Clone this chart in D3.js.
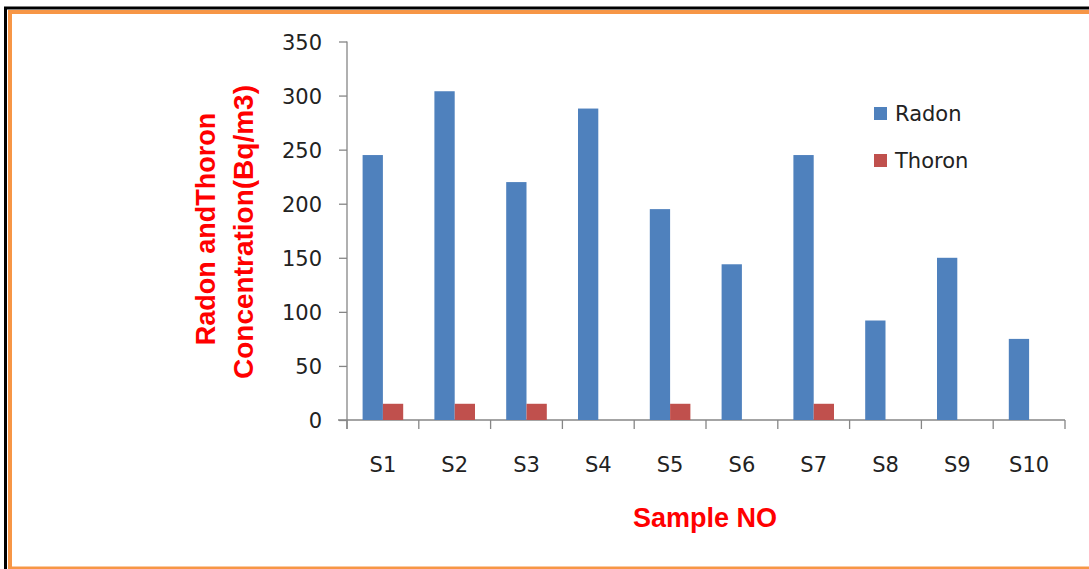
<!DOCTYPE html>
<html>
<head>
<meta charset="utf-8">
<script src="https://cdn.jsdelivr.net/npm/d3@7"></script>
<style>
  html, body { margin: 0; padding: 0; background: #fff; }
  svg { display: block; }
  text { font-family: "DejaVu Sans", sans-serif; }
</style>
</head>
<body>
<svg id="chart" width="1089" height="569"></svg>
<script>
const categories = ["S1","S2","S3","S4","S5","S6","S7","S8","S9","S10"];
const radon  = [245, 304, 220, 288, 195, 144, 245, 92, 150, 75];
const thoron = [15, 15, 15, 0, 15, 0, 15, 0, 0, 0];
const seriesNames = ["Radon", "Thoron"];
const seriesColors = ["#4F81BD", "#C0504D"];
const yTicks = [0, 50, 100, 150, 200, 250, 300, 350];

(function () {
const svg = d3.select("#chart");
const labelFont = "DejaVu Sans, sans-serif";
const titleFont = "Liberation Sans, Arial, sans-serif";

// frame
svg.append("rect").attr("x", 5.5).attr("y", 8).attr("width", 1100).attr("height", 600)
  .attr("fill", "none").attr("stroke", "#000").attr("stroke-width", 3);
svg.append("rect").attr("x", 10).attr("y", 12).attr("width", 1100).attr("height", 556.5)
  .attr("fill", "#fff").attr("stroke", "#F79646").attr("stroke-width", 4);
svg.append("line").attr("x1", 8).attr("x2", 1089).attr("y1", 568.5).attr("y2", 568.5)
  .attr("stroke", "#F79646").attr("stroke-width", 1);

const mLeft = 347, mRight = 1065, mTop = 41.5, mBottom = 420;
const x = d3.scaleBand().domain(categories).range([mLeft, mRight]).paddingInner(0).paddingOuter(0);
const y = d3.scaleLinear().domain([0, 350]).range([mBottom, mTop]);

const axisColor = "#868686";

// y axis
const yAxis = d3.axisLeft(y).tickValues(yTicks).tickSize(8).tickPadding(17).tickSizeOuter(0);
const gy = svg.append("g").attr("transform", `translate(${mLeft},0)`).call(yAxis);
gy.select(".domain").remove();
gy.append("line").attr("x1", 0).attr("x2", 0).attr("y1", mTop).attr("y2", mBottom + 9).attr("stroke", axisColor).attr("stroke-width", 1.3);
gy.selectAll(".tick line").attr("stroke", axisColor).attr("stroke-width", 1.3);
gy.selectAll(".tick text").attr("fill", "#222").style("font-size", "21px").style("font-family", labelFont).attr("dy", "0.36em");

// x axis
const gx = svg.append("g").attr("transform", `translate(0,${mBottom})`);
gx.append("line").attr("x1", mLeft - 9).attr("x2", mRight).attr("y1", 0).attr("y2", 0).attr("stroke", axisColor).attr("stroke-width", 1.3);
const bounds = categories.map(c => x(c)).concat([mRight]);
gx.selectAll(".xt").data(bounds).join("line").attr("class", "xt")
  .attr("x1", d => d).attr("x2", d => d).attr("y1", 0).attr("y2", 9)
  .attr("stroke", axisColor).attr("stroke-width", 1.3);
gx.selectAll(".xl").data(categories).join("text").attr("class", "xl")
  .attr("x", d => x(d) + x.bandwidth() / 2).attr("y", 52)
  .attr("text-anchor", "middle").attr("fill", "#222").style("font-size", "21px").style("font-family", labelFont)
  .text(d => d);

// bars
const data = categories.map((c, i) => ({ c, vals: [radon[i], thoron[i]] }));
const barW = 20.3;
const groupW = barW * 2;
const offset = (x.bandwidth() - groupW) / 2;
const g = svg.append("g");
data.forEach(d => {
  d.vals.forEach((v, j) => {
    if (v <= 0) return;
    g.append("rect")
      .attr("x", x(d.c) + offset + j * barW)
      .attr("y", y(v))
      .attr("width", barW)
      .attr("height", y(0) - y(v))
      .attr("fill", seriesColors[j]);
  });
});

// legend
const legend = svg.append("g");
seriesNames.forEach((n, i) => {
  const ly = 113.5 + i * 47;
  legend.append("rect").attr("x", 874).attr("y", ly - 6.5).attr("width", 13).attr("height", 13).attr("fill", seriesColors[i]);
  legend.append("text").attr("x", 895).attr("y", ly + 7).attr("fill", "#222").style("font-size", "21px").style("font-family", labelFont).text(n);
});

// axis titles
svg.append("text").attr("transform", "translate(215,229) rotate(-90)")
  .attr("text-anchor", "middle").attr("fill", "#FF0000").style("font-weight", "bold").style("font-size", "27px").style("font-family", titleFont)
  .text("Radon andThoron");
svg.append("text").attr("transform", "translate(253,232) rotate(-90)")
  .attr("text-anchor", "middle").attr("fill", "#FF0000").style("font-weight", "bold").style("font-size", "28px").style("font-family", titleFont)
  .text("Concentration(Bq/m3)");
svg.append("text").attr("x", 705).attr("y", 527)
  .attr("text-anchor", "middle").attr("fill", "#FF0000").style("font-weight", "bold").style("font-size", "27px").style("font-family", titleFont)
  .text("Sample NO");
})();
</script>
</body>
</html>
